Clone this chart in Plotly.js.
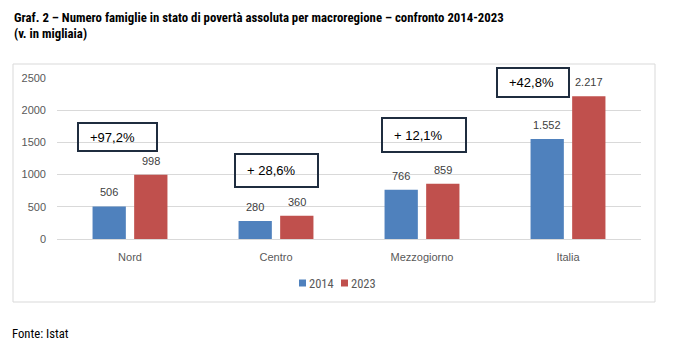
<!DOCTYPE html>
<html><head><meta charset="utf-8">
<script src="https://cdn.plot.ly/plotly-3.0.1.min.js"></script>
<style>html,body{margin:0;padding:0;background:#fff}#c{width:677px;height:356px}</style>
</head><body><div id="c"></div>
<script>
const categories = ["Nord", "Centro", "Mezzogiorno", "Italia"];
const seriesNames = ["2014", "2023"];
const values2014 = [506, 280, 766, 1552];
const values2023 = [998, 360, 859, 2217];
const labels2014 = ["506", "280", "766", "1.552"];
const labels2023 = ["998", "360", "859", "2.217"];
const changeLabels = ["+97,2%", "+ 28,6%", "+ 12,1%", "+42,8%"];
const yTicks = [0, 500, 1000, 1500, 2000, 2500];

const W = 677, H = 356;
const L = 57, R = 641, T = 78, B = 239;
const px = x => (x - L) / (R - L);
const py = y => (B - y) / (B - T);

const colors = ["#4f81bd", "#c0504d"];
const tickFont = {family: "Liberation Sans, Arial, sans-serif", size: 11, color: "#595959"};
const narrow = "Roboto Condensed, Liberation Sans, sans-serif";

const traces = [
  {type: "bar", name: seriesNames[0], x: categories, y: values2014, marker: {color: colors[0]}, hoverinfo: "none", showlegend: false},
  {type: "bar", name: seriesNames[1], x: categories, y: values2023, marker: {color: colors[1]}, hoverinfo: "none", showlegend: false}
];

// change boxes (pixel geometry)
const boxes = [
  {x0: 78, x1: 157, y0: 123, y1: 151, tx: 88},
  {x0: 235, x1: 318, y0: 154, y1: 187, tx: 245},
  {x0: 382, x1: 466, y0: 118, y1: 152, tx: 392},
  {x0: 497, x1: 569, y0: 68, y1: 97, tx: 507}
];

const shapes = [
  {type: "rect", xref: "paper", yref: "paper", x0: px(13), x1: px(655), y0: py(302), y1: py(64),
   line: {color: "#d9d9d9", width: 1}, fillcolor: "rgba(0,0,0,0)", layer: "below"}
];
const annotations = [];
boxes.forEach((b, i) => {
  shapes.push({type: "rect", xref: "paper", yref: "paper", x0: px(b.x0), x1: px(b.x1), y0: py(b.y1), y1: py(b.y0),
    line: {color: "#1f2d3f", width: 2}, fillcolor: "rgba(0,0,0,0)"});
  annotations.push({xref: "paper", yref: "paper", x: px(b.tx), y: py((b.y0 + b.y1) / 2),
    xanchor: "left", yanchor: "middle", showarrow: false, text: changeLabels[i],
    font: {family: "Liberation Sans, Arial, sans-serif", size: 13, color: "#000"}});
});
// data labels
[[values2014, labels2014, -20.75], [values2023, labels2023, 20.75]].forEach(([vals, labs, dx]) => {
  vals.forEach((v, j) => {
    annotations.push({xref: "x", yref: "y", x: categories[j], y: v, xshift: dx, yshift: 6,
      xanchor: "center", yanchor: "bottom", showarrow: false, text: labs[j],
      font: {family: "Liberation Sans, Arial, sans-serif", size: 11, color: "#404040"}});
  });
});
// custom compact legend
const legendItems = [{sq: 299, tx: 307}, {sq: 341, tx: 349}];
legendItems.forEach((it, i) => {
  shapes.push({type: "rect", xref: "paper", yref: "paper", x0: px(it.sq), x1: px(it.sq + 7), y0: py(286.5), y1: py(279.5),
    line: {width: 0}, fillcolor: colors[i]});
  annotations.push({xref: "paper", yref: "paper", x: px(it.tx), y: py(283), xanchor: "left", yanchor: "middle",
    showarrow: false, text: seriesNames[i], font: {family: narrow, size: 12.5, color: "#595959"}});
});
// title and source
const titleFont = {family: narrow, size: 12.8, color: "#000"};
annotations.push({xref: "paper", yref: "paper", x: px(12), y: py(18), xanchor: "left", yanchor: "middle", showarrow: false,
  text: "<b>Graf. 2 – Numero famiglie in stato di povertà assoluta per macroregione – confronto 2014-2023</b>", font: titleFont});
annotations.push({xref: "paper", yref: "paper", x: px(12), y: py(34), xanchor: "left", yanchor: "middle", showarrow: false,
  text: "<b>(v. in migliaia)</b>", font: titleFont});
annotations.push({xref: "paper", yref: "paper", x: px(10), y: py(333), xanchor: "left", yanchor: "middle", showarrow: false,
  text: "Fonte: Istat", font: {family: narrow, size: 12.7, color: "#000"}});

const layout = {
  width: W, height: H,
  margin: {l: L, r: W - R, t: T, b: H - B, pad: 0},
  paper_bgcolor: "#fff", plot_bgcolor: "#fff",
  barmode: "group", bargap: 0.43, bargroupgap: 0.2,
  showlegend: false,
  xaxis: {type: "category", showgrid: false, showline: true, linecolor: "#d9d9d9", linewidth: 1,
    ticks: "", tickfont: tickFont, ticklabelstandoff: 8, fixedrange: true},
  yaxis: {range: [0, 2500], tickvals: yTicks, ticktext: yTicks.map(String), showgrid: true, gridcolor: "#d9d9d9",
    gridwidth: 1, zeroline: false, showline: false, ticks: "", tickfont: tickFont, ticklabelstandoff: 10, fixedrange: true},
  shapes: shapes,
  annotations: annotations
};

Plotly.newPlot("c", traces, layout, {staticPlot: true, displayModeBar: false});
</script></body></html>
